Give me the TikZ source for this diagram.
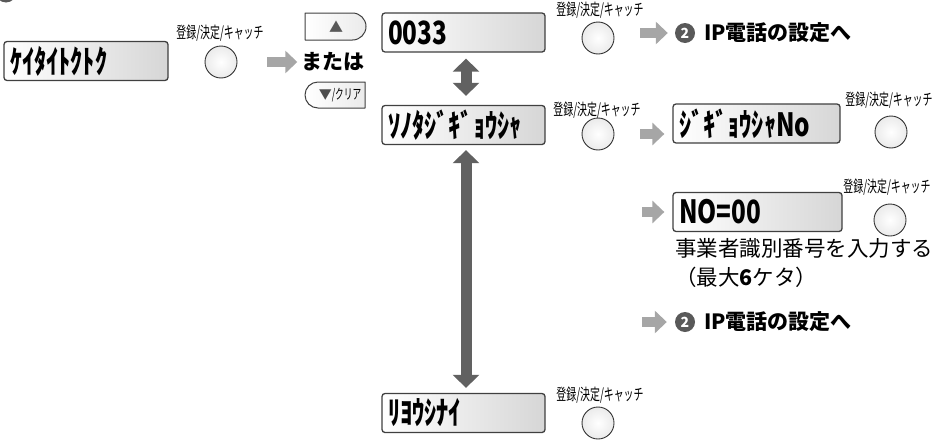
\documentclass[tikz,border=0pt]{standalone}
\usepackage{fontspec}
\setmainfont{Noto Sans CJK JP}
\newfontfamily\lcdfont[FakeStretch=0.76]{Noto Sans CJK JP}
\newfontfamily\keyfont[FakeStretch=0.62]{Noto Sans CJK JP}
\usetikzlibrary{arrows.meta}

\tikzset{
  lcd/.style={draw=black!75, line width=1.3pt, rounded corners=3pt, left color=white, right color=black!16,
    minimum height=39pt, inner xsep=6pt, inner ysep=0pt, text width=#1, align=left,
    font=\lcdfont\bfseries\fontsize{32}{32}\selectfont},
  btn/.style={circle, draw=black!80, line width=0.9pt, minimum size=32pt, inner sep=0pt, inner color=white, outer color=black!8},
  keylbl/.style={font=\keyfont\fontsize{16}{16}\selectfont, inner sep=0pt},
  keyedge/.style={draw=black!75, line width=1pt, left color=white, right color=black!8},
  garrow/.style={draw=black!35, line width=10pt, line cap=butt, -{Triangle[length=12pt,width=22pt]}},
  darrow/.style={draw=black!62, line width=11pt, line cap=butt, {Triangle[length=13pt,width=26pt]}-{Triangle[length=13pt,width=26pt]}},
  num/.style={circle, fill=black!65, text=white, inner sep=0pt, minimum size=20pt, font=\bfseries\fontsize{14}{14}\selectfont},
  goto/.style={anchor=west, inner sep=0pt, font=\bfseries\fontsize{21}{21}\selectfont},
  body/.style={anchor=west, inner sep=0pt, font=\fontsize{21.5}{22}\selectfont}
}

\begin{document}
\begin{tikzpicture}[x=1pt,y=-1pt,line join=round]
\useasboundingbox (0,0) rectangle (939,442);
\fill[black!65] (6,-8) circle (10.5pt);
% display screens
\node[lcd=152pt] (keitai) at (86,61) {ｹｲﾀｲﾄｸﾄｸ};
\node[lcd=151pt] (num33) at (463.5,32.5) {0033};
\node[lcd=151pt] (sonota) at (463.5,125) {ｿﾉﾀｼﾞｷﾞｮｳｼｬ};
\node[lcd=155pt] (jigyo) at (756.5,123.5) {ｼﾞｷﾞｮｳｼｬNo};
\node[lcd=157pt] (noin) at (757.5,212) {NO=00};
\node[lcd=151pt] (riyo) at (463.5,413) {ﾘﾖｳｼﾅｲ};
% keys
\foreach \n/\x/\y/\lx/\ly in {k1/221/62/220/33, k2/598/38/600/10, k3/598/134/597/110, k4/891/132/889/100, k5/890/220/887/187, k6/598/423/600/395}{
  \node[btn] (\n) at (\x,\y) {};
  \node[keylbl] (\n lbl) at (\lx,\ly) {登録/決定/キャッチ};
}
\draw[keyedge] (305,13) -- (352.5,13) arc[start angle=-90,end angle=90,radius=13.5] -- (305,40) -- cycle;
\node[inner sep=0pt, text=black!65, font=\fontsize{14}{14}\selectfont] (up) at (336,26.5) {▲};
\draw[keyedge] (365,82) -- (318,82) arc[start angle=-90,end angle=-270,radius=13] -- (365,108) -- cycle;
\node[inner sep=0pt, font=\fontsize{13}{13}\selectfont] (down) at (340,95) {{\color{black!70}▼}{\keyfont\fontsize{14}{14}\selectfont/クリア}};
\node[inner sep=0pt, font=\bfseries\fontsize{21}{21}\selectfont] (mata) at (333,62) {または};
% goto
\node[num] (n2a) at (685,33) {2};
\node[goto] (ip1) at (704,33) {IP電話の設定へ};
\node[num] (n2b) at (685,322) {2};
\node[goto] (ip2) at (704,322) {IP電話の設定へ};
\node[body] (memo) at (675,248) {事業者識別番号を入力する};
\node[body] (memo2) at (675,277) {（最大\textbf{6}ケタ）};
% arrows
\coordinate (from4) at (642,212);
\coordinate (from5) at (642,322);
\draw[garrow, shorten <=30pt] (k1.east) -- ([xshift=-4pt]mata.west);
\draw[garrow, shorten <=26pt] (k2.east |- n2a) -- ([xshift=-7pt]n2a.west);
\draw[garrow, shorten <=26pt, shorten >=8pt] (k3.east) -- (jigyo.west |- k3);
\draw[garrow] (from4) -- ([xshift=-8pt]noin.west);
\draw[garrow] (from5) -- ([xshift=-8pt]n2b.west);
\draw[darrow, shorten <=6pt, shorten >=9pt] ([xshift=2.5pt]num33.south) -- ([xshift=2.5pt]sonota.north);
\draw[darrow, shorten <=5pt, shorten >=5pt] ([xshift=2.5pt]sonota.south) -- ([xshift=2.5pt]riyo.north);
\end{tikzpicture}
\end{document}
